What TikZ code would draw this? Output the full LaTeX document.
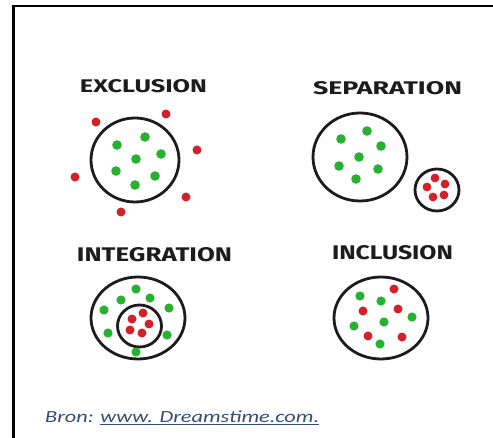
\documentclass[tikz,border=0pt]{standalone}
\usepackage{fontspec}
\setmainfont{Carlito}
\newfontfamily\titlefont{Fira Sans}
\definecolor{dotgreen}{RGB}{38,178,48}
\definecolor{dotred}{RGB}{212,32,42}
\definecolor{ink}{RGB}{28,28,28}
\definecolor{srcblue}{RGB}{52,78,120}
\tikzset{
  ring/.style={draw=ink,line width=2.8pt},
  gdot/.style={fill=dotgreen},
  rdot/.style={fill=dotred},
  frameline/.style={draw=black,line width=2.2pt},
  title/.style={inner sep=0pt,text=ink}
}
\begin{document}
\begin{tikzpicture}[x=1pt,y=-1pt]
\useasboundingbox (0,0) rectangle (493,438);
\fill[white] (0,0) rectangle (493,438);
\draw[frameline] (493,6) -- (13.5,6) -- (13.5,438);

% titles
\node[title] (texcl) at (143.5,86.5) {\resizebox{127pt}{13pt}{\titlefont\bfseries EXCLUSION}};
\node[title] (tsep) at (387.5,88.5) {\resizebox{149pt}{13pt}{\titlefont\bfseries SEPARATION}};
\node[title] (tint) at (154.5,254.5) {\resizebox{155pt}{14pt}{\titlefont\bfseries INTEGRATION}};
\node[title] (tinc) at (392.5,252.5) {\resizebox{121pt}{14pt}{\titlefont\bfseries INCLUSION}};

% EXCLUSION
\draw[ring] (135,160) ellipse [x radius=44, y radius=42];
\foreach \p in {(145,137),(117,145),(161,154),(136,159),(116,171),(155,176),(135,185)}
  \fill[gdot] \p circle (4.8);
\foreach \p in {(96,122),(166,114),(197,150),(75,177),(186,197),(121,212)}
  \fill[rdot] \p circle (4.5);

% SEPARATION
\draw[ring] (360,157) ellipse [x radius=47, y radius=44];
\foreach \p in {(341,139),(367,131),(381,146),(359,157),(339,166),(378,169),(356,179)}
  \fill[gdot] \p circle (4.8);
\draw[ring] (437,190) ellipse [x radius=22, y radius=21];
\foreach \p in {(435,178),(445,184),(427,187),(444,195),(433,197)}
  \fill[rdot] \p circle (4.4);

% INTEGRATION
\draw[ring] (138,318) ellipse [x radius=47, y radius=41];
\draw[ring] (139.5,326) ellipse [x radius=22, y radius=21];
\foreach \p in {(136,289),(121,300),(150,298),(104,310),(169,308),(108,333),(167,335),(136,352)}
  \fill[gdot] \p circle (4.6);
\foreach \p in {(143,313),(132,319),(149,324),(130,330),(142,333)}
  \fill[rdot] \p circle (4.5);

% INCLUSION
\draw[ring] (381,318) ellipse [x radius=47, y radius=41];
\foreach \p in {(360,296),(381,301),(412,317),(384,322),(354,326),(380,344)}
  \fill[gdot] \p circle (4.6);
\foreach \p in {(394,289),(363,311),(398,309),(368,336),(402,337)}
  \fill[rdot] \p circle (4.5);

% source
\node[inner sep=0pt,anchor=west,text=srcblue] (src) at (45,418)
  {\scalebox{1.31}[1]{\fontsize{17pt}{20pt}\selectfont\itshape Bron: \underline{www. Dreamstime.com.}}};
\end{tikzpicture}
\end{document}
